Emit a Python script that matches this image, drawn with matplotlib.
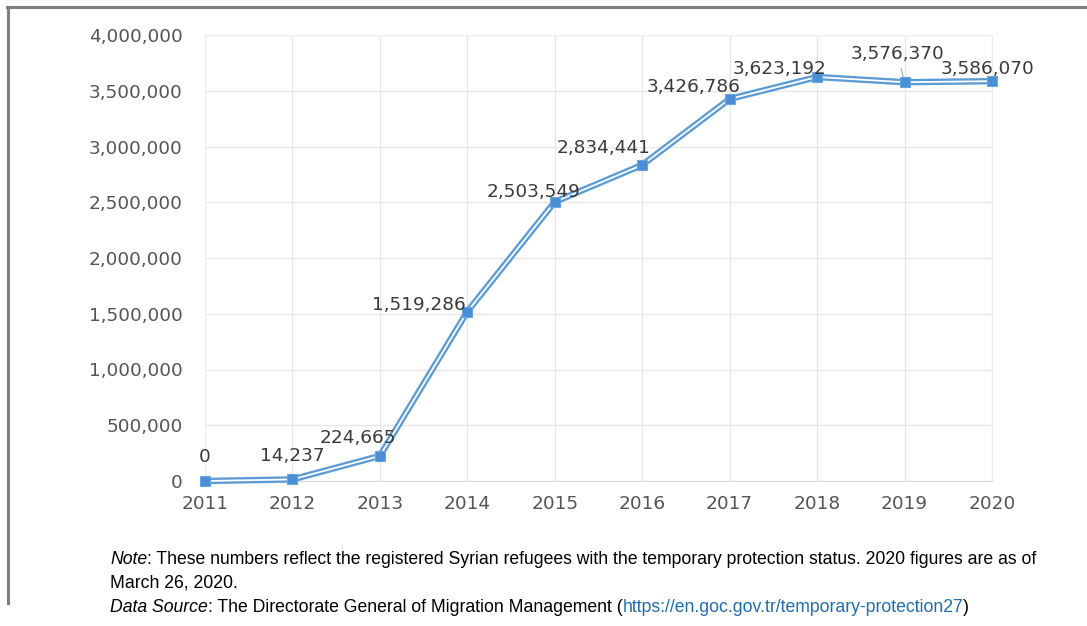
import matplotlib
matplotlib.use("Agg")
import matplotlib.pyplot as plt
from matplotlib.lines import Line2D
from matplotlib.ticker import FuncFormatter

years = [2011, 2012, 2013, 2014, 2015, 2016, 2017, 2018, 2019, 2020]
refugees = [0, 14237, 224665, 1519286, 2503549, 2834441, 3426786, 3623192, 3576370, 3586070]
y_ticks = [0, 500000, 1000000, 1500000, 2000000, 2500000, 3000000, 3500000, 4000000]

note_text = ": These numbers reflect the registered Syrian refugees with the temporary protection status. 2020 figures are as of"
note_text2 = "March 26, 2020."
source_text = ": The Directorate General of Migration Management ("
source_link = "https://en.goc.gov.tr/temporary-protection27"

W, H = 1087, 626
fig = plt.figure(figsize=(W / 100, H / 100), dpi=100)
fig.patch.set_facecolor("white")

# outer frame
fig.add_artist(Line2D([7 / W, 1.0], [1 - 7 / H, 1 - 7 / H], color="#7f7f7f", lw=2.2))
fig.add_artist(Line2D([8 / W, 8 / W], [1 - 7 / H, 1 - 603 / H], color="#7f7f7f", lw=2.2))

left, right, top, bottom = 205 / W, 992 / W, 35 / H, 481 / H
ax = fig.add_axes([left, 1 - bottom, right - left, bottom - top])
ax.set_xlim(years[0], years[-1])
ax.set_ylim(0, 4000000)
ax.set_xticks(years)
ax.set_yticks(y_ticks)
ax.yaxis.set_major_formatter(FuncFormatter(lambda v, p: f"{int(v):,}"))
ax.grid(True, color="#e6e6e6", lw=0.9)
ax.set_axisbelow(True)
for s in ["left", "right", "top"]:
    ax.spines[s].set_color("#eeeeee")
ax.spines["bottom"].set_color("#d9d9d9")
ax.tick_params(length=0, labelsize=13.3, labelcolor="#555555")
ax.tick_params(axis="x", pad=10)
ax.tick_params(axis="y", pad=16)
for lab in ax.get_xticklabels() + ax.get_yticklabels():
    lab.set_fontfamily("DejaVu Sans")

# double line
ax.plot(years, refugees, color="#5b9bd5", lw=4.6, solid_joinstyle="round", clip_on=False, zorder=3)
ax.plot(years, refugees, color="white", lw=1.3, solid_joinstyle="round", clip_on=False, zorder=4)
ax.plot(years, refugees, ls="none", marker="s", ms=7.5, mfc="#4a8fd6", mec="#6aa6de",
        mew=0.8, clip_on=False, zorder=5)

# data labels: offsets in points (dx, dy)
offsets = [(0, 17), (0, 16.5), (-16, 13), (-35, 4.5), (-15, 7), (-28, 12.5), (-26, 8.5), (-27, 6), (-5, 20.5), (-3, 8.5)]
for x, y, (dx, dy) in zip(years, refugees, offsets):
    kw = {}
    if x == 2019:
        kw = dict(arrowprops=dict(arrowstyle="-", color="#a6a6a6", lw=0.8, shrinkA=2, shrinkB=4))
    ax.annotate(f"{y:,}", xy=(x, y), xytext=(dx, dy), textcoords="offset points",
                ha="center", va="center", fontsize=13.3, color="#3a3a3a",
                fontfamily="DejaVu Sans", zorder=6, annotation_clip=False, **kw)

# notes
fs = 12.7
fam = "Liberation Sans"
t1 = fig.text(110 / W, 1 - 559 / H, "Note", style="italic", fontsize=fs, family=fam, va="center")
ax.annotate(note_text, xy=(1, 0.5), xycoords=t1, va="center", ha="left", fontsize=fs, family=fam)
fig.text(110 / W, 1 - 583 / H, note_text2, fontsize=fs, family=fam, va="center")
s1 = fig.text(110 / W, 1 - 607 / H, "Data Source", style="italic", fontsize=fs, family=fam, va="center")
s2 = ax.annotate(source_text, xy=(1, 0.5), xycoords=s1, va="center", ha="left", fontsize=fs, family=fam)
s3 = ax.annotate(source_link, xy=(1, 0.5), xycoords=s2, va="center", ha="left", fontsize=fs, family=fam,
                 color="#1f6eb0")
ax.annotate(")", xy=(1, 0.5), xycoords=s3, va="center", ha="left", fontsize=fs, family=fam)

fig.savefig("out.png", dpi=100)
